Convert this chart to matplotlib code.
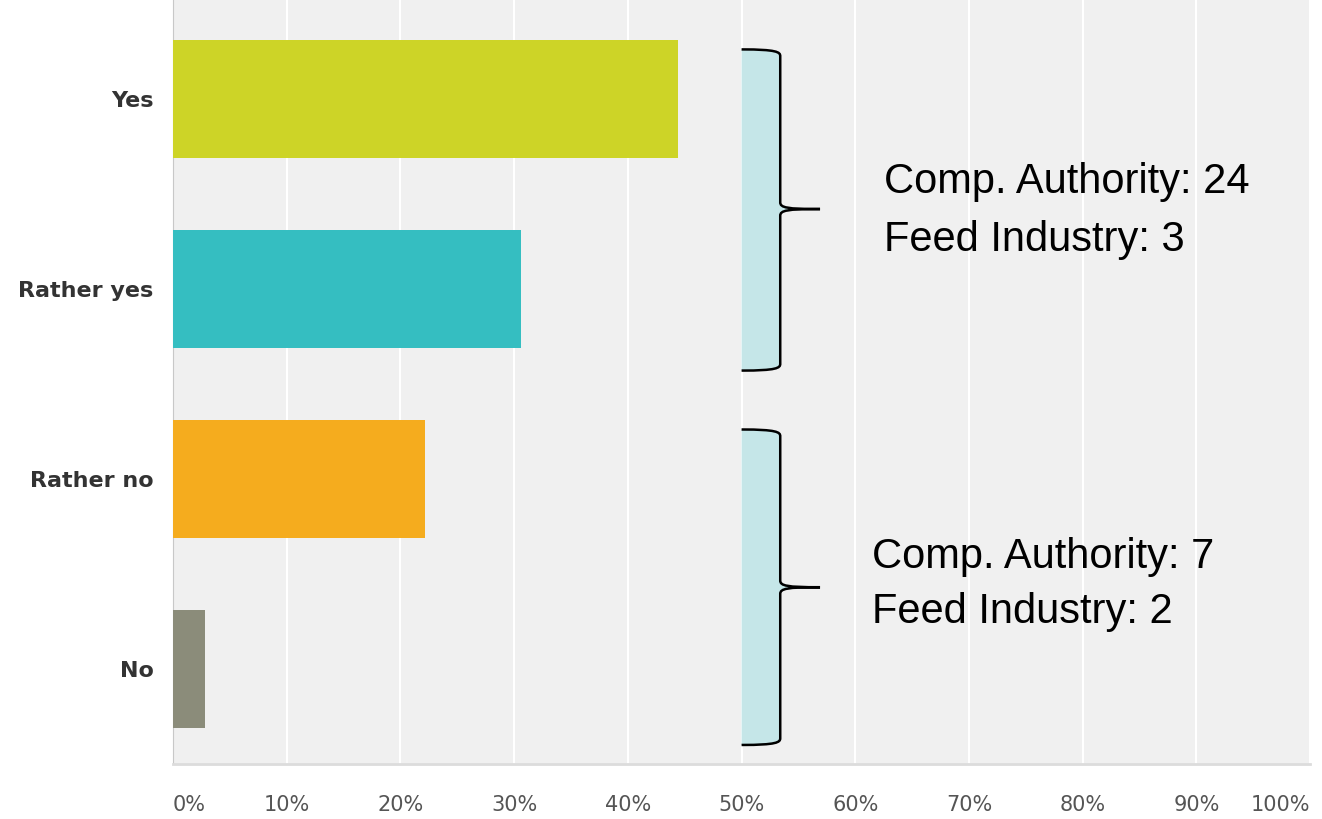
import matplotlib
matplotlib.use("Agg")
import matplotlib.pyplot as plt
from matplotlib.path import Path
from matplotlib.patches import PathPatch

categories = ["Yes", "Rather yes", "Rather no", "No"]
values = [44.4, 30.6, 22.2, 2.8]
colors = ["#cdd427", "#35bec1", "#f5ac1e", "#8b8c7a"]
xticks = [0, 10, 20, 30, 40, 50, 60, 70, 80, 90, 100]
xticklabels = ["0%", "10%", "20%", "30%", "40%", "50%", "60%", "70%", "80%", "90%", "100%"]
group_labels = [["Comp. Authority: 24", "Feed Industry: 3"],
                ["Comp. Authority: 7", "Feed Industry: 2"]]

fig = plt.figure(figsize=(13.22, 8.19), dpi=100)
ax = fig.add_axes([0.1309, 0.0672, 0.991 - 0.1309, 1 - 0.0672])
ax.set_facecolor("#f0f0f0")
ypos = list(range(len(categories)))
ax.barh(ypos, values, height=0.62, color=colors, zorder=3)
ax.set_xlim(0, 100)
ax.set_ylim(3.5, -0.52)
ax.set_xticks(xticks)
ax.set_xticklabels(xticklabels, fontsize=15, color="#555555", family="DejaVu Sans")
tl = ax.get_xticklabels()
tl[0].set_ha("left")
tl[-1].set_ha("right")
ax.set_yticks(ypos)
ax.set_yticklabels(categories, fontsize=16, fontweight="bold", color="#333333")
ax.tick_params(axis="x", length=0, pad=22)
ax.tick_params(axis="y", length=0, pad=14)
ax.grid(axis="x", color="white", linewidth=1.5, zorder=1)
for s in ["top", "right"]:
    ax.spines[s].set_visible(False)
ax.spines["left"].set_color("#c8c8c8")
ax.spines["bottom"].set_color("#dcdcdc")
ax.spines["bottom"].set_linewidth(2)


def brace(y0, y1, ym, x0=50.0, x1=53.4, xt=56.9):
    dy = 0.035
    verts_line = [
        (x0, y0), (x1 - 0.3, y0), (x1, y0 + dy * 0.4), (x1, y0 + dy),
        (x1, ym - dy),
        (x1, ym - dy * 0.2), (x1 + 0.6, ym), (xt, ym),
        (x1 + 0.6, ym), (x1, ym + dy * 0.2), (x1, ym + dy),
        (x1, y1 - dy),
        (x1, y1 - dy * 0.4), (x1 - 0.3, y1), (x0, y1),
    ]
    codes_line = [Path.MOVETO, Path.CURVE4, Path.CURVE4, Path.CURVE4,
                  Path.LINETO,
                  Path.CURVE4, Path.CURVE4, Path.CURVE4,
                  Path.CURVE4, Path.CURVE4, Path.CURVE4,
                  Path.LINETO,
                  Path.CURVE4, Path.CURVE4, Path.CURVE4]
    fill_verts = verts_line + [(x0, y0), (x0, y0)]
    fill_codes = codes_line + [Path.LINETO, Path.CLOSEPOLY]
    ax.add_patch(PathPatch(Path(fill_verts, fill_codes), facecolor="#c5e6e8",
                           edgecolor="none", zorder=4))
    ax.add_patch(PathPatch(Path(verts_line, codes_line), facecolor="none",
                           edgecolor="black", linewidth=1.8, zorder=5))


brace(-0.26, 1.43, 0.58)
brace(1.74, 3.40, 2.57)

fs = 30
ax.text(62.5, 0.44, group_labels[0][0], fontsize=fs, family="Liberation Sans", va="center", zorder=6)
ax.text(62.5, 0.745, group_labels[0][1], fontsize=fs, family="Liberation Sans", va="center", zorder=6)
ax.text(61.5, 2.41, group_labels[1][0], fontsize=fs, family="Liberation Sans", va="center", zorder=6)
ax.text(61.5, 2.70, group_labels[1][1], fontsize=fs, family="Liberation Sans", va="center", zorder=6)

fig.savefig("out.png", dpi=100)
